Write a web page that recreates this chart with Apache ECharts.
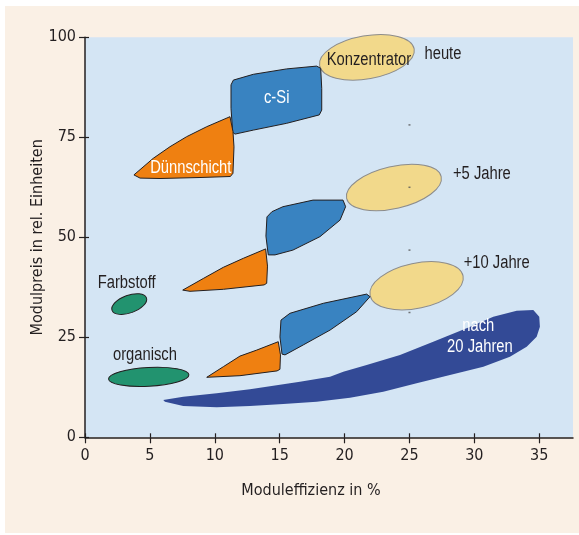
<!DOCTYPE html>
<html><head><meta charset="utf-8">
<script src="https://cdn.jsdelivr.net/npm/echarts@6/dist/echarts.min.js"></script>
<style>
html,body{margin:0;padding:0;background:#fff;}
#bg{position:absolute;left:5px;top:6px;width:574px;height:527px;background:#faf0e5;}
#chart{position:absolute;left:0;top:0;width:579px;height:535px;}
</style></head><body>
<div id="bg"></div><div id="chart"></div>
<script>
// ---- data ----
const xTicks = [0, 5, 10, 15, 20, 25, 30, 35];
const yTicks = [0, 25, 50, 75, 100];
// ellipses: [centerX, centerY, semiAxisX, semiAxisY, tiltDeg]
const konzentratorEllipses = [[21.72, 95.0, 3.70, 5.38, 10], [23.8, 62.45, 3.74, 5.25, 13], [25.55, 37.9, 3.66, 5.63, 12]];
const farbstoffEllipse = [[3.41, 33.3, 1.41, 2.2, 20]];
const organischEllipse = [[4.91, 15.1, 3.10, 2.33, 3]];
// outlines (efficiency %, price)
const duennHeute = [[3.77,65.6],[5.26,69.75],[6.55,72.65],[7.83,75.15],[9.38,77.65],[11.17,80.15],[11.40,76.5],[11.48,72.6],[11.40,66.0],[11.2,65.2],[8.86,64.95],[5.78,64.7],[4.24,64.8]];
const cSiHeute = [[11.43,89.3],[12.97,90.75],[15.54,92.1],[17.85,92.8],[18.16,92.25],[18.24,87.25],[18.24,81.8],[18.05,80.6],[15.54,78.5],[12.97,76.8],[11.56,75.8],[11.38,76.25],[11.25,82.25],[11.25,88.1]];
const cSi5 = [[14.02,55.1],[14.4,56.4],[15.25,57.65],[17.57,59.3],[19.88,59.3],[20.08,57.65],[19.65,54.3],[18.1,50.15],[16.02,46.8],[14.64,45.6],[14.12,45.6],[13.94,50.3]];
const duenn5 = [[7.53,36.8],[9.11,39.7],[10.66,42.5],[12.2,44.75],[13.92,47.1],[14.06,42.8],[14.0,38.5],[13.8,38.1],[10.66,37.0],[8.09,36.5]];
const cSi10 = [[15.1,29.3],[15.79,31.0],[18.36,33.5],[21.7,35.8],[21.96,35.15],[20.93,31.4],[18.88,26.8],[16.82,23.1],[15.41,20.6],[15.18,20.8],[15.02,25.1]];
const duenn10 = [[9.38,15.0],[10.66,17.65],[11.94,20.3],[13.23,21.8],[14.89,23.9],[15.06,20.6],[15.02,17.0],[14.8,16.6],[11.94,15.4]];
const nach20 = [[6.03,9.3],[7.57,10.15],[10.15,11.0],[12.71,12.0],[16.56,13.9],[18.88,15.15],[19.9,16.4],[21.7,18.1],[24.27,20.6],[26.83,23.9],[29.4,27.25],[31.46,30.15],[33.26,31.65],[34.54,31.8],[35.0,30.15],[35.05,27.65],[34.8,25.15],[34.03,22.65],[32.74,20.15],[30.69,17.65],[28.12,15.6],[25.55,13.5],[22.98,11.4],[20.42,9.9],[17.85,8.9],[15.28,8.3],[12.71,7.8],[10.15,7.5],[7.57,7.8],[6.16,8.9]];
const gridDots = [[25, 78.1], [25, 62.5], [25, 46.8], [25, 31.2]];
const darkLabels = [["Konzentrator", 21.88, 94.3], ["heute", 27.58, 95.8], ["+5 Jahre", 30.58, 65.8], ["+10 Jahre", 31.72, 43.5], ["Farbstoff", 3.21, 38.5], ["organisch", 4.62, 20.6]];
const whiteLabels = [["c-Si", 14.77, 84.75], ["Dünnschicht", 8.15, 67.3], ["nach", 30.3, 27.8], ["20 Jahren", 30.43, 22.5]];

// ---- styles ----
const F = "'DejaVu Sans Condensed','Liberation Sans',sans-serif";
const INK = '#231f20';
const C = {orange:'#ef8011', blue:'#3983c1', yellow:'#f2d98b', green:'#22936f', navy:'#334a96'};

function polySeries(pts, fill, stroke) {
  return {
    type: 'custom', coordinateSystem: 'cartesian2d', silent: true,
    data: pts.slice(0, 1),
    renderItem: function (params, api) {
      return {type: 'polygon', shape: {points: pts.map(p => api.coord(p))},
        style: {fill: fill, stroke: stroke || null, lineWidth: stroke ? 1 : 0, lineJoin: 'round'}};
    }
  };
}
function ellipseSeries(list, fill, stroke) {
  return {
    type: 'custom', coordinateSystem: 'cartesian2d', silent: true, data: list,
    renderItem: function (params, api) {
      const c = api.coord([api.value(0), api.value(1)]);
      const s = api.size([api.value(2), api.value(3)]);
      return {type: 'ellipse', x: c[0], y: c[1], rotation: api.value(4) * Math.PI / 180,
        shape: {cx: 0, cy: 0, rx: s[0], ry: s[1]},
        style: {fill: fill, stroke: stroke, lineWidth: 1}};
    }
  };
}
function labelSeries(list, color) {
  return {
    type: 'custom', coordinateSystem: 'cartesian2d', silent: true, z: 10,
    data: list.map(l => [l[1], l[2]]),
    renderItem: function (params, api) {
      const c = api.coord([api.value(0), api.value(1)]);
      return {type: 'text', x: c[0], y: c[1], scaleX: 0.82,
        style: {text: list[params.dataIndex][0], fill: color, fontSize: 18, fontFamily: "'Liberation Sans',Arial,sans-serif",
          align: 'center', verticalAlign: 'middle'}};
    }
  };
}

const chart = echarts.init(document.getElementById('chart'), null, {renderer: 'canvas'});
const axisCommonX = {type: 'value', min: 0, max: 37.6, interval: 5, splitLine: {show: false}};
const axisCommonY = {type: 'value', min: 0, max: 100, interval: 25, splitLine: {show: false}};
chart.setOption({
  animation: false,
  grid: {left: 85, right: 6, top: 37.3, bottom: 97.7, show: true, backgroundColor: '#d4e5f4', borderWidth: 0},
  xAxis: [
    Object.assign({}, axisCommonX, {
      position: 'bottom',
      axisLine: {show: true, onZero: false, lineStyle: {color: INK, width: 1.5}},
      axisTick: {show: true, length: 6, customValues: xTicks, lineStyle: {color: INK, width: 1.2}},
      axisLabel: {customValues: xTicks, margin: 11, fontSize: 16, color: INK, fontFamily: F},
      name: 'Moduleffizienz in %', nameLocation: 'middle', nameGap: 46, nameMoveOverlap: false,
      nameTextStyle: {fontSize: 16, color: INK, fontFamily: F, padding: [0, 36, 0, 0]}
    }),
    Object.assign({}, axisCommonX, {
      position: 'bottom',
      axisLine: {show: false, onZero: false},
      axisTick: {show: true, inside: true, length: 4, customValues: xTicks, lineStyle: {color: INK, width: 1.2}},
      axisLabel: {show: false}
    })
  ],
  yAxis: [
    Object.assign({}, axisCommonY, {
      position: 'left',
      axisLine: {show: true, onZero: false, lineStyle: {color: INK, width: 1.5}},
      axisTick: {show: true, length: 6, customValues: yTicks, lineStyle: {color: INK, width: 1.2}},
      axisLabel: {customValues: yTicks, margin: 9, fontSize: 16, color: INK, fontFamily: F},
      name: 'Modulpreis in rel. Einheiten', nameLocation: 'middle', nameGap: 39, nameMoveOverlap: false,
      nameTextStyle: {fontSize: 16, color: INK, fontFamily: F}
    }),
    Object.assign({}, axisCommonY, {
      position: 'left',
      axisLine: {show: false, onZero: false},
      axisTick: {show: true, inside: true, length: 4, customValues: yTicks, lineStyle: {color: INK, width: 1.2}},
      axisLabel: {show: false}
    })
  ],
  series: [
    polySeries(nach20, C.navy, null),
    ellipseSeries(konzentratorEllipses, C.yellow, '#8c8c8c'),
    ellipseSeries(farbstoffEllipse, C.green, INK),
    ellipseSeries(organischEllipse, C.green, INK),
    polySeries(cSiHeute, C.blue, INK),
    polySeries(cSi5, C.blue, INK),
    polySeries(cSi10, C.blue, INK),
    polySeries(duennHeute, C.orange, INK),
    polySeries(duenn5, C.orange, INK),
    polySeries(duenn10, C.orange, INK),
    {type: 'scatter', silent: true, symbol: 'rect', symbolSize: [2, 1.5], itemStyle: {color: '#555'}, data: gridDots},
    labelSeries(darkLabels, INK),
    labelSeries(whiteLabels, '#ffffff')
  ]
});
</script>
</body></html>
